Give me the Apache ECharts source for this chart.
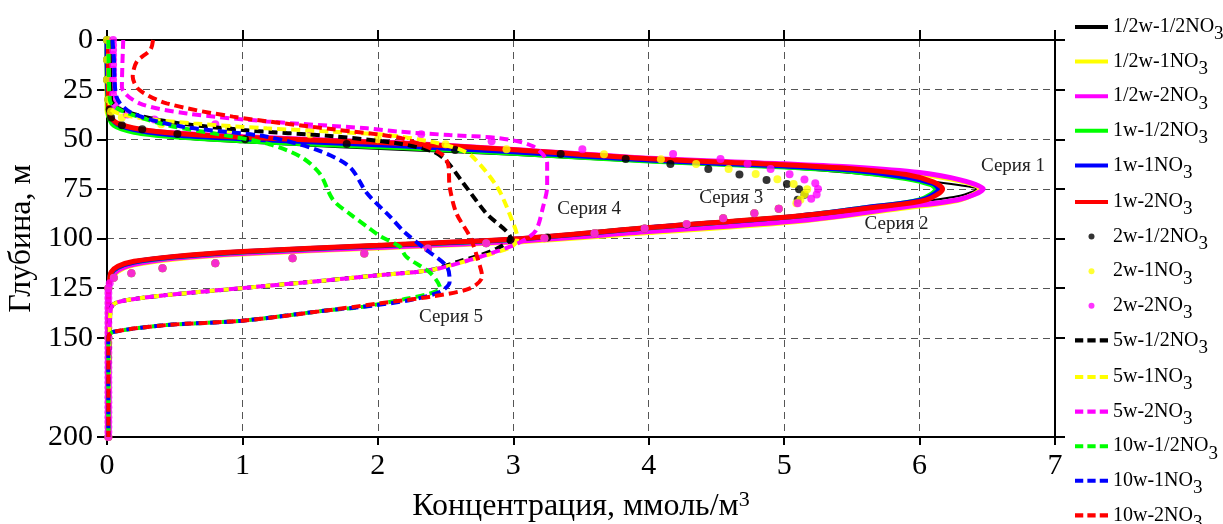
<!DOCTYPE html>
<html>
<head>
<meta charset="utf-8">
<title>Профили концентрации NO3</title>
<script src="https://cdn.jsdelivr.net/npm/echarts@6/dist/echarts.min.js"></script>
<style>
  html, body { margin: 0; padding: 0; background: #fff; }
  #chart { width: 1223px; height: 524px; }
</style>
</head>
<body>
<div id="chart"></div>
<script>
// Depth profiles of nitrate concentration: each point is [concentration, depth].

const depthTicks = [0, 25, 50, 75, 100, 125, 150, 200];
const concTicks = [0, 1, 2, 3, 4, 5, 6, 7];

const seriesNames = [
  '1/2w-1/2NO3', '1/2w-1NO3', '1/2w-2NO3',
  '1w-1/2NO3', '1w-1NO3', '1w-2NO3',
  '2w-1/2NO3', '2w-1NO3', '2w-2NO3',
  '5w-1/2NO3', '5w-1NO3', '5w-2NO3',
  '10w-1/2NO3', '10w-1NO3', '10w-2NO3'
];

// ---- solid profiles ----
const halfW_halfNO3 = [[0,0],[0,35],[0.02,40],[0.1,44.5],[0.3,47.8],[0.7,50.3],[1.0,51.5],[1.72,54],[3,57.8],[4,61.5],[5,64.5],[5.5,67],[6.0,70.5],[6.3,73.2],[6.42,75],[6.3,78.5],[5.9,82.5],[5.12,90.3],[4,96],[3,101],[2,104],[1,107],[0.5,109.5],[0.2,112.5],[0.08,115.5],[0.03,119],[0.02,123],[0.01,130],[0.01,200]];
const halfW_1NO3 = [[0,0],[0,35],[0.03,40],[0.12,43.8],[0.4,46.6],[1.0,48.9],[1.65,50.9],[2.16,52.3],[3,55.6],[4,59.9],[5,62.7],[5.5,64.5],[6.0,67.5],[6.3,71],[6.45,75],[6.3,80.5],[5.9,84.5],[5.12,91.3],[4,97],[3,101.8],[2,104.8],[1,107.8],[0.5,110.3],[0.2,113.3],[0.08,116.5],[0.03,120.5],[0.01,126],[0.01,200]];
const halfW_2NO3 = [[0.01,0],[0.01,35],[0.03,40],[0.12,43.5],[0.4,46.3],[1.0,48.6],[1.65,50.5],[2.16,51.8],[3,55.1],[4,59.6],[5,62.4],[5.5,64],[6.0,66.8],[6.3,70.5],[6.47,75],[6.3,80.2],[5.9,84],[5.12,91],[4,96.5],[3,101.5],[2,104.5],[1,107.5],[0.5,110],[0.2,113],[0.08,116],[0.03,120],[0.01,125],[0.01,200]];
const oneW_halfNO3 = [[0,0],[0.01,37],[0.05,43],[0.2,46.5],[0.5,48.8],[1.0,50.8],[1.65,52.8],[2.16,54.2],[3,57],[4,61],[5,64],[5.5,66.2],[5.9,69.8],[6.08,72.8],[6.12,75],[6.0,80.5],[5.6,84.5],[5.12,88.6],[4,94.6],[3,100.5],[2,103.7],[1,106.8],[0.5,109.3],[0.2,111.9],[0.08,114.6],[0.03,117.6],[0.02,121],[0.01,130],[0.01,200]];
const oneW_1NO3 = [[0,0],[0.02,37],[0.08,42.5],[0.25,45.8],[0.5,47.8],[1.0,49.7],[1.65,51.8],[2.16,53.3],[3,56.3],[4,60.5],[5,63.5],[5.5,65.5],[5.9,69],[6.1,72.3],[6.14,75],[6.02,80.5],[5.6,84.5],[5.12,88.6],[4,94.6],[3,100.4],[2,103.6],[1,106.7],[0.5,109.2],[0.2,111.8],[0.08,114.5],[0.03,117.5],[0.02,121],[0.01,130],[0.01,200]];
const oneW_2NO3 = [[0.01,0],[0.01,30],[0.02,38],[0.08,42],[0.25,45],[0.5,47],[1.0,49],[1.65,50.7],[2.16,52],[3,55.3],[4,59.8],[5,62.8],[5.5,64.8],[5.9,67.8],[6.1,71.5],[6.17,75],[6.05,80.5],[5.7,84],[5.12,88.5],[4,94.5],[3,100.3],[2,103.4],[1,106.6],[0.5,109],[0.2,111.5],[0.08,114],[0.03,117],[0.02,120],[0.01,130],[0.01,200]];

// ---- 2w point profiles ----
const twoW_halfNO3 = [[0,0],[0,10],[0,20],[0.01,30],[0.02,35],[0.03,39],[0.11,43],[0.26,45],[0.52,47.4],[1.02,50],[1.77,52.4],[2.57,55.4],[3.35,57.4],[3.83,60],[4.16,62.5],[4.44,65],[4.67,67.7],[4.87,70.5],[5.02,72.5],[5.11,75.2],[5.15,78],[5.1,80.5],[4.96,85],[4.78,87.3],[4.55,89.8],[4.28,92.9],[3.97,94.9],[3.6,97.4],[3.25,99.5],[2.98,100.8],[2.8,102.4],[2.37,105],[1.9,107.5],[1.37,110],[0.8,112.5],[0.41,115],[0.18,117.5],[0.05,119.8],[0.01,125],[0.01,150],[0.01,200]];
const twoW_1NO3 = [[0,0],[0,10],[0,20],[0.01,30],[0.03,36],[0.11,39],[0.4,42.5],[0.9,45],[1.5,47.5],[2.0,50],[2.5,52.5],[2.95,55],[3.67,57.6],[4.09,60.1],[4.35,62.5],[4.59,65],[4.79,67.5],[4.95,70.2],[5.07,72.5],[5.17,75.2],[5.15,77.7],[5.12,80.5],[5.09,82.2],[4.96,85],[4.78,87.3],[4.55,89.8],[4.28,92.7],[3.97,94.9],[3.6,97.4],[3.23,99.9],[2.8,102.4],[2.37,105],[1.9,107.5],[1.37,110],[0.8,112.5],[0.41,115],[0.18,117.5],[0.05,119.8],[0.01,125],[0.01,150],[0.01,200]];
const twoW_2NO3 = [[0.045,0],[0.045,2.5],[0.045,5],[0.045,7.5],[0.045,10],[0.045,12.5],[0.045,15],[0.045,17.5],[0.045,20],[0.045,22.5],[0.045,25],[0.045,27.5],[0.05,30],[0.06,32.5],[0.08,35],[0.15,37.5],[0.35,40],[0.8,42.5],[1.5,45],[2.32,47.5],[2.84,51],[3.51,55],[4.18,57.4],[4.53,60],[4.73,62.5],[4.9,65],[5.04,67.6],[5.15,70.3],[5.23,72.2],[5.25,75],[5.24,77.8],[5.2,80],[5.1,82.3],[4.96,85],[4.78,87.3],[4.55,89.8],[4.28,92.7],[3.97,94.9],[3.6,97.4],[3.23,99.9],[2.8,102.4],[2.37,105],[1.9,107.5],[1.37,110],[0.8,112.5],[0.41,115],[0.18,117.5],[0.05,119.8],[0.02,122.5],[0.01,125],[0.01,127.5],[0.01,130],[0.01,132.5],[0.01,135],[0.01,137.5],[0.01,140],[0.01,142.5],[0.01,145],[0.01,147.5],[0.01,150],[0.01,152.5],[0.01,155],[0.01,157.5],[0.01,160],[0.01,162.5],[0.01,165],[0.01,167.5],[0.01,170],[0.01,172.5],[0.01,175],[0.01,177.5],[0.01,180],[0.01,182.5],[0.01,185],[0.01,187.5],[0.01,190],[0.01,192.5],[0.01,195],[0.01,197.5],[0.01,200]];

// ---- dashed profiles ----
const fiveW_halfNO3 = [[0.02,0],[0.03,30],[0.1,35],[0.44,41],[1.0,45.3],[1.67,48.5],[2.14,52],[2.4,56],[2.5,60.5],[2.63,72],[2.8,87.3],[2.98,100],[2.88,105],[2.75,108.5],[2.6,111.5],[2.39,115.9],[2.02,118.4],[1.65,120.9],[1.0,125],[0.44,128.5],[0.15,131],[0.06,132.6],[0.03,135],[0.02,145],[0.01,200]];
const fiveW_1NO3 = [[0.01,0],[0.02,33.6],[0.19,38.6],[0.64,42],[1.18,44.5],[1.67,46.2],[2.07,47.9],[2.39,51.2],[2.6,55],[2.7,58.8],[2.88,73.9],[2.99,90.7],[3.03,99.9],[2.99,104],[2.85,107.5],[2.68,110.8],[2.39,115.9],[2.02,118.4],[1.65,120.9],[1.0,125],[0.44,128.5],[0.15,131],[0.06,132.6],[0.03,135],[0.02,145],[0.01,200]];
const fiveW_2NO3 = [[0.12,0],[0.11,23.5],[0.24,31.9],[0.59,37],[1.18,41],[1.92,44.5],[2.16,46.2],[2.53,47.9],[2.9,49.5],[3.15,53.7],[3.25,62.1],[3.25,73.9],[3.22,84],[3.17,95.7],[3.1,100],[2.98,104],[2.68,110.8],[2.39,115.9],[2.02,118.4],[1.65,120.9],[1.0,125],[0.44,128.5],[0.15,131],[0.06,132.6],[0.03,135],[0.02,145],[0.01,200]];
const tenW_halfNO3 = [[0.01,0],[0.02,30.2],[0.1,35.3],[0.44,42.8],[0.93,48.7],[1.2,52.5],[1.43,58.8],[1.57,67.2],[1.67,80.6],[1.8,88],[1.92,94],[2.02,99],[2.16,104],[2.21,109.2],[2.39,117.5],[2.46,125.1],[2.39,127.6],[2.2,130.5],[1.89,134.4],[1.65,136],[1.0,141.4],[0.44,143.6],[0.05,147],[0.01,149.5],[0.01,200]];
const tenW_1NO3 = [[0.04,0],[0.05,8.4],[0.07,28.6],[0.19,37],[0.56,43.7],[1.18,48.7],[1.55,55.4],[1.79,63.8],[1.92,77.2],[2.09,89],[2.2,97],[2.36,105.8],[2.51,114.2],[2.53,121.8],[2.46,126.8],[2.24,131],[1.89,134.4],[1.65,136],[1.0,141.4],[0.44,143.6],[0.05,147],[0.01,149.5],[0.01,200]];
const tenW_2NO3 = [[0.34,0],[0.32,5],[0.22,10.9],[0.19,18.5],[0.24,25.2],[0.44,31.9],[0.93,38.6],[1.67,45],[2.14,49],[2.35,53.5],[2.48,58],[2.52,63],[2.53,73.9],[2.58,87.3],[2.68,99.1],[2.74,110.8],[2.77,119.2],[2.68,125.1],[2.39,129.3],[2.02,132.6],[1.65,136],[1.0,141.4],[0.44,143.6],[0.05,147],[0.01,149.5],[0.01,200]];

const profiles = [
  halfW_halfNO3, halfW_1NO3, halfW_2NO3,
  oneW_halfNO3, oneW_1NO3, oneW_2NO3,
  twoW_halfNO3, twoW_1NO3, twoW_2NO3,
  fiveW_halfNO3, fiveW_1NO3, fiveW_2NO3,
  tenW_halfNO3, tenW_1NO3, tenW_2NO3
];

// Labels placed beside the curve groups: [text, concentration, depth]
const groupLabels = [
  ['Серия 1', 6.69, 63.5],
  ['Серия 2', 5.83, 92.7],
  ['Серия 3', 4.61, 79.6],
  ['Серия 4', 3.56, 85.1],
  ['Серия 5', 2.54, 139.5]
];

// ---- styling ----
const palette = ['#000000', '#ffff00', '#ff00ff', '#00ff00', '#0000ff', '#ff0000',
                 '#000000', '#ffff00', '#ff00ff',
                 '#000000', '#ffff00', '#ff00ff', '#00ff00', '#0000ff', '#ff0000'];
const kinds = ['solid','solid','solid','solid','solid','solid',
               'dots','dots','dots',
               'dash','dash','dash','dash','dash','dash'];
const FONT = "'Liberation Serif', 'Times New Roman', serif";

const ICON_SOLID = 'path://M0,0H33V4H0Z';
const ICON_DASH = 'path://M0,0H8V4H0Z M12,0H20V4H12Z M24,0H32V4H24Z';

const series = seriesNames.map((name, i) => {
  const color = palette[i];
  if (kinds[i] === 'dots') {
    return {
      name, type: 'scatter', data: profiles[i],
      symbol: 'circle', symbolSize: 8,
      itemStyle: { color },
      z: 3
    };
  }
  const dashed = kinds[i] === 'dash';
  return {
    name, type: 'line', data: profiles[i],
    showSymbol: false, smooth: 0.3,
    lineStyle: {
      color,
      width: dashed ? 4 : (i === 0 ? 2 : 5),
      type: dashed ? [9, 5] : 'solid',
      cap: 'butt'
    },
    itemStyle: { color },
    z: dashed ? 4 : 2
  };
});

const legendItems = seriesNames.map((name, i) => ({
  name,
  icon: kinds[i] === 'dots' ? 'circle' : (kinds[i] === 'dash' ? ICON_DASH : ICON_SOLID)
}));

// Legend is laid out as stacked blocks with a fixed height so the column never wraps.
function legendBlock(items, top) {
  return {
    orient: 'vertical',
    left: 1075, top, height: 320,
    padding: 0,
    itemWidth: 33, itemHeight: 6, itemGap: 7.6,
    data: items,
    selectedMode: false,
    formatter: (name) => '{m|' + name.replace(/NO3$/, 'NO') + '}{s|3}',
    textStyle: {
      fontFamily: FONT, color: '#000',
      rich: {
        m: { fontFamily: FONT, fontSize: 20, color: '#000', lineHeight: 34, verticalAlign: 'middle' },
        s: { fontFamily: FONT, fontSize: 19, color: '#000', lineHeight: 6, verticalAlign: 'bottom' }
      }
    }
  };
}

const axisLine = { show: true, onZero: false, lineStyle: { color: '#000', width: 2 } };
const splitDash = { type: [7, 5], color: '#555', width: 1 };

const chart = echarts.init(document.getElementById('chart'), null, { renderer: 'canvas' });

const option = {
  backgroundColor: '#fff',
  animation: false,
  textStyle: { fontFamily: FONT },
  grid: { left: 107, right: 168, top: 40, bottom: 87, outerBoundsMode: 'none' },
  legend: [
    legendBlock(legendItems.slice(0, 5), 17),
    legendBlock(legendItems.slice(5, 10), 192),
    legendBlock(legendItems.slice(10), 367)
  ],
  xAxis: [
    {
      type: 'value', position: 'bottom', min: 0, max: 7, interval: 1,
      axisLine, axisTick: { show: true, length: 8, lineStyle: { color: '#000', width: 2 } },
      axisLabel: { fontFamily: FONT, fontSize: 30, color: '#000', margin: 14,
                   customValues: concTicks },
      splitLine: { show: true, lineStyle: splitDash },
      name: '{m|Концентрация, ммоль/м}{s|3}',
      nameLocation: 'middle', nameGap: 52,
      nameTextStyle: {
        rich: {
          m: { fontFamily: FONT, fontSize: 32, color: '#000', lineHeight: 36, verticalAlign: 'middle' },
          s: { fontFamily: FONT, fontSize: 22, color: '#000', lineHeight: 22, verticalAlign: 'top' }
        }
      }
    },
    {
      type: 'value', position: 'top', min: 0, max: 7, interval: 1,
      axisLine, axisTick: { show: true, length: 10, lineStyle: { color: '#000', width: 2 } },
      axisLabel: { show: false }, splitLine: { show: false }
    }
  ],
  yAxis: [
    {
      type: 'value', position: 'left', inverse: true, min: 0, max: 200, interval: 25,
      axisLine,
      axisTick: { show: true, length: 10, customValues: depthTicks, lineStyle: { color: '#000', width: 2 } },
      axisLabel: { fontFamily: FONT, fontSize: 30, color: '#000', margin: 14, customValues: depthTicks },
      splitLine: {
        show: true,
        lineStyle: Object.assign({}, splitDash, {
          color: ['#555', '#555', '#555', '#555', '#555', '#555', '#555', 'rgba(0,0,0,0)', '#555']
        })
      },
      name: 'Глубина, м', nameLocation: 'middle', nameGap: 47, nameRotate: 90,
      nameTextStyle: { fontFamily: FONT, fontSize: 32, color: '#000' }
    },
    {
      type: 'value', position: 'right', inverse: true, min: 0, max: 200, interval: 25,
      axisLine,
      axisTick: { show: true, length: 10, customValues: depthTicks, lineStyle: { color: '#000', width: 2 } },
      axisLabel: { show: false }, splitLine: { show: false }
    }
  ],
  series
};

chart.setOption(option);

// Group captions positioned in data coordinates
chart.setOption({
  graphic: groupLabels.map(([text, c, d]) => {
    const p = chart.convertToPixel({ xAxisIndex: 0, yAxisIndex: 0 }, [c, d]);
    return {
      type: 'text', x: p[0], y: p[1], z: 10,
      style: { text, font: '19px ' + FONT, fill: '#222', align: 'center', verticalAlign: 'middle' }
    };
  })
});
</script>
</body>
</html>
